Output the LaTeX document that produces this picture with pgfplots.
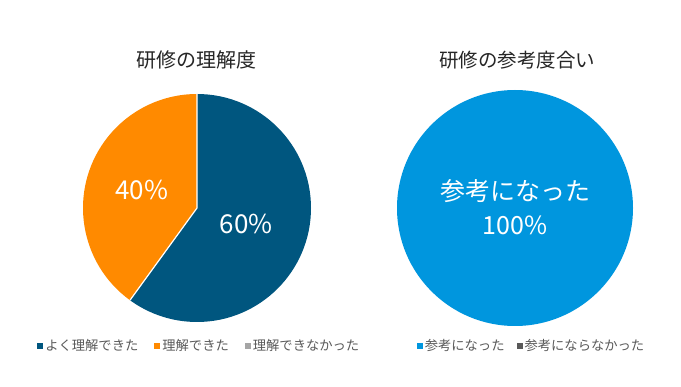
\documentclass[border=0pt]{standalone}
\usepackage{pgfplots}
\pgfplotsset{compat=1.18}
\usepackage{fontspec}
\setmainfont{Noto Sans CJK JP}
\definecolor{cDark}{HTML}{00567F}
\definecolor{cOrange}{HTML}{FF8A00}
\definecolor{cGray}{HTML}{A5A5A5}
\definecolor{cBlue}{HTML}{0096DE}
\definecolor{cDGray}{HTML}{595959}
\definecolor{cTitle}{HTML}{262626}
\definecolor{cLeg}{HTML}{595959}
% data (percent)
\def\Ayoku{60}   % よく理解できた
\def\Arikai{40}  % 理解できた
\def\Anai{0}     % 理解できなかった
\def\Bnatta{100} % 参考になった
\def\Bnai{0}     % 参考にならなかった
\pgfplotsset{
  pie/.style={scale only axis, hide axis, clip=false, xmin=-1,xmax=1,ymin=-1,ymax=1,
    legend columns=-1,
    legend style={draw=none, fill=none, font=\fontsize{13.3}{16}\selectfont, text=cLeg,
      /tikz/every even column/.append style={column sep=14pt}},
    legend image code/.code={\fill[##1] (0pt,-3pt) rectangle (6pt,3pt);}},
}
\begin{document}
\begin{tikzpicture}[x=1pt,y=1pt]
\path[use as bounding box, fill=white] (0,0) rectangle (681,-387);
\node[font=\fontsize{20}{23}\selectfont, text=cTitle] at (196,-60) {研修の理解度};
\node[font=\fontsize{19.5}{23}\selectfont, text=cTitle] at (517,-60) {研修の参考度合い};
% left pie
\begin{axis}[pie, at={(197pt,-208pt)}, anchor=center, width=228pt, height=228pt,
  legend style={at={(axis cs:0.02,-1.21)}, anchor=center}]
  \pgfmathsetmacro\aA{90}
  \pgfmathsetmacro\aB{90-3.6*\Ayoku}
  \pgfmathsetmacro\aC{\aB-3.6*\Arikai}
  \fill[cDark] (axis cs:0,0) -- (axis cs:{cos(\aA)},{sin(\aA)}) arc[start angle=\aA, end angle=\aB, radius=114pt] -- cycle;
  \fill[cOrange] (axis cs:0,0) -- (axis cs:{cos(\aB)},{sin(\aB)}) arc[start angle=\aB, end angle=\aC, radius=114pt] -- cycle;
  \draw[white, line width=1.2pt] (axis cs:{cos(\aA)},{sin(\aA)}) -- (axis cs:0,0) -- (axis cs:{cos(\aB)},{sin(\aB)});
  \pgfmathsetmacro\mA{(\aA+\aB)/2}
  \pgfmathsetmacro\mB{(\aB+\aC)/2}
  \node[text=white, font=\fontsize{26}{30}\selectfont] at (axis cs:{0.455*cos(\mA)},{0.455*sin(\mA)}) {\Ayoku\%};
  \node[text=white, font=\fontsize{26}{30}\selectfont] at (axis cs:{0.51*cos(\mB)},{0.51*sin(\mB)}) {\Arikai\%};
  \addlegendimage{fill=cDark, draw=none}\addlegendentry{よく理解できた}
  \addlegendimage{fill=cOrange, draw=none}\addlegendentry{理解できた}
  \addlegendimage{fill=cGray, draw=none}\addlegendentry{理解できなかった}
\end{axis}
% right pie
\begin{axis}[pie, at={(515pt,-208pt)}, anchor=center, width=236pt, height=236pt,
  legend style={at={(axis cs:0.14,-1.17)}, anchor=center,
    /tikz/every even column/.append style={column sep=10pt}}]
  \fill[cBlue] (axis cs:0,0) circle[radius=118pt];
  \node[text=white, font=\fontsize{25}{34}\selectfont, align=center] at (axis cs:0,0.01) {参考になった\\\Bnatta\%};
  \addlegendimage{fill=cBlue, draw=none}\addlegendentry{参考になった}
  \addlegendimage{fill=cDGray, draw=none}\addlegendentry{参考にならなかった}
\end{axis}
\end{tikzpicture}
\end{document}
